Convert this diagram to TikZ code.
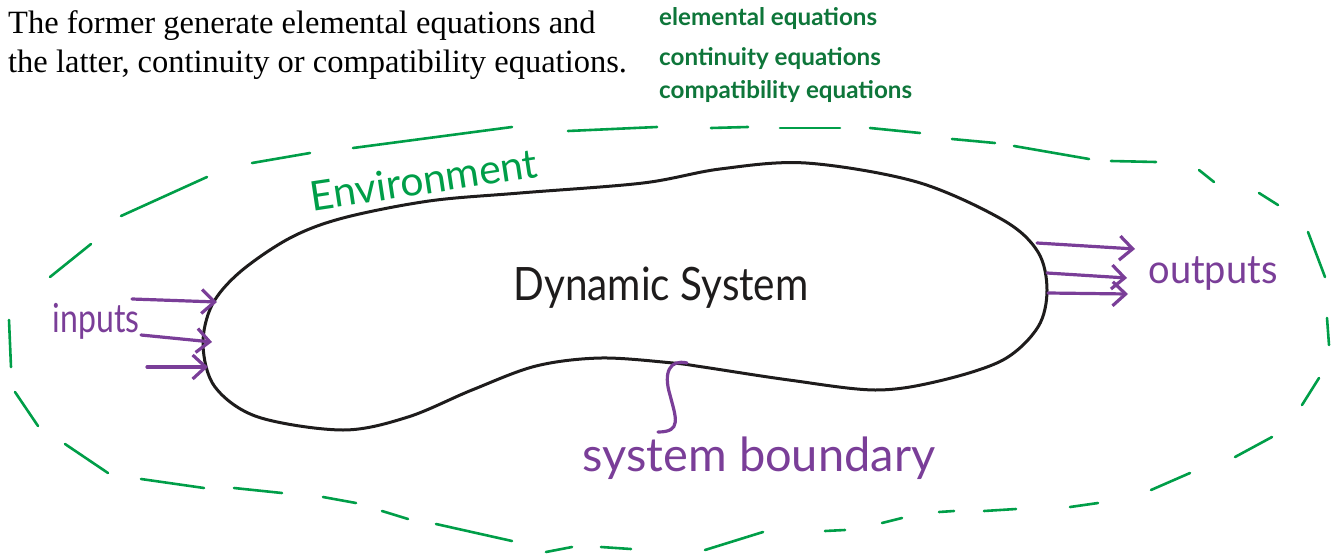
\documentclass[tikz,border=0pt]{standalone}
\usepackage{fontspec}
\setmainfont{Liberation Serif}
\newfontfamily\handfont{Lato}
\newfontfamily\labfont{Lato}
\usetikzlibrary{arrows.meta}
\definecolor{envgreen}{RGB}{0,158,72}
\definecolor{labgreen}{RGB}{14,118,58}
\definecolor{handpurple}{RGB}{122,62,152}
\definecolor{inkblack}{RGB}{30,28,28}
\tikzset{
  envdash/.style={draw=envgreen, line width=2.6pt, line cap=round},
  blobline/.style={draw=inkblack, line width=3pt},
  flow/.style={draw=handpurple, line width=3.2pt, line cap=round,
    -{Straight Barb[length=13pt,width=24pt]}},
  conn/.style={draw=handpurple, line width=3.2pt, line cap=round},
  serif/.style={font=\fontsize{32.5}{39}\selectfont, text=black, inner sep=0pt},
  eqlab/.style={font=\labfont\bfseries\fontsize{24.2}{26}\selectfont, text=labgreen, inner sep=0pt},
  hand/.style={font=\handfont\fontsize{40}{40}\selectfont, inner sep=0pt},
}
\begin{document}
\begin{tikzpicture}[x=1pt,y=-1pt]
\useasboundingbox (0,0) rectangle (1333,554);

% top text
\node[serif, anchor=base west] (t1) at (8,33) {The former generate elemental equations and};
\node[serif, anchor=base west] (t2) at (8,72) {the latter, continuity or compatibility equations.};
\node[eqlab, anchor=base west] (e1) at (659,25) {elemental equations};
\node[eqlab, anchor=base west] (e2) at (659,65) {continuity equations};
\node[eqlab, anchor=base west] (e3) at (659,98) {compatibility equations};

% environment boundary (dashed)
\foreach \xa/\ya/\xb/\yb in {
  50/277/91/244, 121/216/207/177, 252/163/310/153, 353/148/512/127,
  568/131/657/127, 711/128/748/127, 780/128/840/128, 870/128/920/133,
  952/139/995/143, 1014/146/1089/159, 1111/161/1156/162, 1199/170/1214/182,
  1259/193/1278/205, 1308/232/1325/277, 1327/318/1329/345, 1302/405/1319/378,
  1235/457/1272/437, 1151/490/1190/473, 1070/507/1098/503, 984/511/1016/509,
  939/512/954/511, 882/523/902/518, 825/531/845/530, 705/550/763/532,
  601/547/631/549, 546/552/572/547, 436/524/512/541, 382/511/408/519,
  323/497/356/503, 234/488/282/493, 141/479/204/488, 65/444/108/473,
  15/392/38/426, 9/320/11/367}
  \draw[envdash] (\xa,\ya) -- (\xb,\yb);

% system boundary (blob)
\draw[blobline] plot[smooth cycle, tension=0.55] coordinates {
  (203,345) (212,305) (240,272) (290,238) (343,218) (429,201) (520,193)
  (643,183) (720,169) (806,163) (917,182) (1003,220) (1038,252) (1047,290)
  (1038,327) (1003,360) (939,381) (875,390) (789,380) (703,367) (673,363)
  (601,358) (536,366) (472,390) (408,417) (343,430) (258,417) (215,387)};

% labels
\node[hand, text=inkblack, anchor=base] (sys) at (661,300)
  {\scalebox{0.88}[1]{\fontsize{46}{46}\selectfont Dynamic System}};
\node[hand, text=envgreen, anchor=base, rotate=8.6] (env) at (426,194)
  {\fontsize{41}{41}\selectfont Environment};
\node[hand, text=handpurple, anchor=base] (inp) at (96,332)
  {\scalebox{0.8}[1]{inputs}};
\node[hand, text=handpurple, anchor=base] (outp) at (1213,283)
  {\scalebox{0.95}[1]{outputs}};
\node[hand, text=handpurple, anchor=base] (bnd) at (759,471)
  {\fontsize{47}{47}\selectfont system boundary};

% input arrows
\coordinate (in1s) at (132,299); \coordinate (in1e) at (217,302);
\coordinate (in2s) at (141,335); \coordinate (in2e) at (212,342);
\coordinate (in3s) at (147,367); \coordinate (in3e) at (208,367);
\draw[flow] (in1s) -- (in1e);
\draw[flow] (in2s) -- (in2e);
\draw[flow] (in3s) -- (in3e);

% output arrows
\coordinate (o1s) at (1037,243); \coordinate (o1e) at (1135,249);
\coordinate (o2s) at (1047,273); \coordinate (o2e) at (1127,278);
\coordinate (o3s) at (1048,293); \coordinate (o3e) at (1128,294);
\draw[flow] (o1s) -- (o1e);
\draw[flow] (o2s) -- (o2e);
\draw[flow] (o3s) -- (o3e);

% boundary pointer
\coordinate (bA) at (687,363);
\coordinate (bB) at (658,432);
\draw[conn] (bA) .. controls (670,359) and (663,372) .. (670,395)
  .. controls (676,418) and (682,432) .. (bB);
\end{tikzpicture}
\end{document}
